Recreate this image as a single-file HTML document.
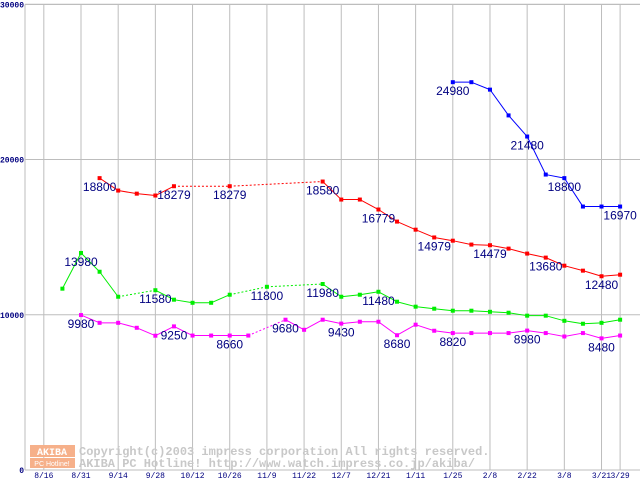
<!DOCTYPE html>
<html><head><meta charset="utf-8"><style>
html,body{margin:0;padding:0;background:#fff;}
svg{display:block;font-family:"Liberation Sans",sans-serif;}
</style></head><body>
<svg id="chart" width="640" height="480" viewBox="0 0 640 480" xmlns="http://www.w3.org/2000/svg">
<rect x="0" y="0" width="640" height="480" fill="#fff"/>
<g id="grid"></g>
<g id="watermark">
  <rect x="30" y="445" width="45" height="12" fill="#f6b08a"/>
  <rect x="30" y="458" width="45" height="10" fill="#f6b08a"/>
  <text x="52" y="455" font-size="10" font-weight="bold" fill="#fff" text-anchor="middle" font-family="Liberation Mono, monospace">AKIBA</text>
  <text x="52" y="466" font-size="7" fill="#fff" text-anchor="middle">PC Hotline!</text>
  <text x="79" y="455" font-size="12" font-weight="bold" fill="#c8c8c8" font-family="Liberation Mono, monospace">Copyright(c)2003 impress corporation All rights reserved.</text>
  <text x="79" y="467" font-size="12" font-weight="bold" fill="#c8c8c8" font-family="Liberation Mono, monospace">AKIBA PC Hotline!  http://www.watch.impress.co.jp/akiba/</text>
</g>
<g id="series"></g>
<g id="labels"></g>
</svg>
<script>
const xLabels = ["8/16","8/31","9/14","9/28","10/12","10/26","11/9","11/22","12/7","12/21","1/11","1/25","2/8","2/22","3/8","3/21","3/29"];
const xLabelIdx = [-2,0,2,4,6,8,10,12,14,16,18,20,22,24,26,28,29];
const yTicks = [0,10000,20000,30000];
const blue = [null,null,null,null,null,null,null,null,null,null,null,null,null,null,null,null,null,null,null,null,24980,24980,24500,22840,21480,19030,18800,16970,16970,16970];
const red = [null,18800,18000,17800,17680,18279,null,null,18279,null,null,null,null,18580,17420,17420,16779,16000,15480,14979,14770,14520,14479,14260,13940,13680,13160,12840,12480,12580];
const green = [13980,12770,11160,null,11580,10970,10770,10770,11290,null,11800,null,null,11980,11160,11290,11480,10840,10520,10390,10260,10260,10190,10130,9940,9940,9610,9420,9480,9680];
const greenPre = 11680;
const magenta = [9980,9480,9480,9160,8650,9250,8660,8660,8660,8660,null,9680,9030,9680,9430,9550,9550,8680,9360,8970,8820,8820,8820,8820,8980,8820,8600,8820,8480,8660];
const blueLabelIdx = [20,24,26,29];
const redLabelIdx = [1,5,8,13,16,19,22,25,28];
const greenLabelIdx = [0,4,10,13,16];
const magentaLabelIdx = [0,5,8,11,14,17,20,24,28];

const NS="http://www.w3.org/2000/svg";
const X0=81, DX=18.59, Y0=470, KY=0.015525, LEFT=25, TOP=4.5, RIGHT=640;
function xs(i){return X0+i*DX;}
function ys(v){return Y0-v*KY;}
function mk(tag,attrs,parent){const e=document.createElementNS(NS,tag);for(const k in attrs)e.setAttribute(k,attrs[k]);parent.appendChild(e);return e;}
const grid=document.getElementById('grid');
yTicks.forEach((v,i)=>{
  if(v>0){const l=mk('line',{x1:LEFT,x2:RIGHT,y1:ys(v),y2:ys(v),stroke:'#bdbdbd','stroke-width':1},grid);
  
  }
  const t=mk('text',{x:LEFT-1,y:ys(v)+3,'font-size':8,fill:'#000080','text-anchor':'end','font-weight':'bold','font-family':'Liberation Mono, monospace'},grid);
  t.textContent=String(v);
  
  
});
xLabelIdx.forEach((idx,i)=>{
  const l=mk('line',{x1:xs(idx),x2:xs(idx),y1:TOP,y2:Y0,stroke:'#bdbdbd','stroke-width':1},grid);
  
  
  const t=mk('text',{x:xs(idx),y:478,'font-size':8,fill:'#000080','text-anchor':'middle','font-family':'Liberation Mono, monospace'},grid);
  t.textContent=xLabels[i];
  
  
});
const ax=mk('line',{x1:LEFT,x2:LEFT,y1:TOP,y2:Y0,stroke:'#bdbdbd','stroke-width':1},grid);


const bx=mk('line',{x1:LEFT,x2:RIGHT,y1:Y0,y2:Y0,stroke:'#bdbdbd','stroke-width':1},grid);


const tx=mk('line',{x1:LEFT,x2:RIGHT,y1:TOP,y2:TOP,stroke:'#bdbdbd','stroke-width':1},grid);



const sg=document.getElementById('series'), lg=document.getElementById('labels');
function drawSeries(data,color,name,pre){
  const g=mk('g',{},sg);
  
  
  const pts=[];
  if(pre!==undefined) pts.push([-1,pre]);
  data.forEach((v,i)=>{if(v!==null)pts.push([i,v]);});
  for(let k=1;k<pts.length;k++){
    const a=pts[k-1],b=pts[k];
    const attrs={x1:xs(a[0]),y1:ys(a[1]),x2:xs(b[0]),y2:ys(b[1]),stroke:color,'stroke-width':1};
    if(b[0]-a[0]>1)attrs['stroke-dasharray']='2,2';
    const l=mk('line',attrs,g);
    
    
  }
  pts.forEach(p=>{
    const r=mk('rect',{x:xs(p[0])-2,y:ys(p[1])-2,width:4,height:4,fill:color},g);
    
    
  });
}
function drawLabels(data,idxs,name){
  idxs.forEach(i=>{
    const t=mk('text',{x:xs(i),y:ys(data[i])+13,'font-size':12,fill:'#000080','text-anchor':'middle'},lg);
    t.textContent=String(data[i]);
    
    
  });
}
drawSeries(magenta,'#ff00ff','magenta');
drawSeries(green,'#00ee00','green',greenPre);
drawSeries(red,'#ff0000','red');
drawSeries(blue,'#0000ff','blue');
drawLabels(magenta,magentaLabelIdx,'magenta');
drawLabels(green,greenLabelIdx,'green');
drawLabels(red,redLabelIdx,'red');
drawLabels(blue,blueLabelIdx,'blue');
</script>
</body></html>
